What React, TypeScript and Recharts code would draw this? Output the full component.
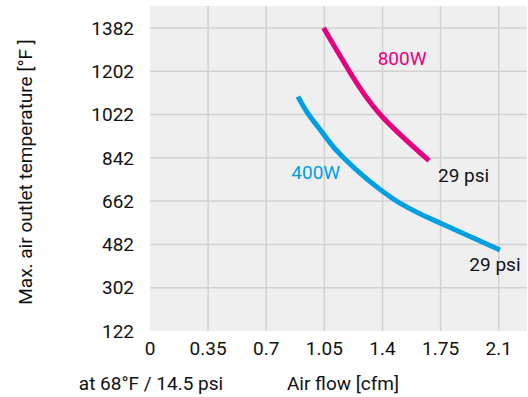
import { LineChart, Line, XAxis, YAxis, CartesianGrid, ReferenceDot, Label } from 'recharts';

// air flow [cfm] / max. outlet temperature [°F]
const flow400 = [0.891, 0.955, 1.049, 1.165, 1.456, 1.75, 2.107];
const temp400 = [1096, 1022, 937, 842, 675, 570, 459];
const flow800 = [1.045, 1.2, 1.386, 1.68];
const temp800 = [1382, 1202, 1022, 830];

const xTicks = [0, 0.35, 0.7, 1.05, 1.4, 1.75, 2.1];
const yTicks = [122, 302, 482, 662, 842, 1022, 1202, 1382];
const xDomain = [0, 2.27];
const yDomain = [122, 1473];

const notes = [
  { x: 1.518, y: 1255, text: '800W', color: '#e5007d' },
  { x: 0.998, y: 781, text: '400W', color: '#009fe3' },
  { x: 1.888, y: 770, text: '29 psi', color: '#111' },
  { x: 2.077, y: 398, text: '29 psi', color: '#111' },
];

const data400 = flow400.map((x, i) => ({ x, y: temp400[i] }));
const data800 = flow800.map((x, i) => ({ x, y: temp800[i] }));

const font = 'Roboto, "Liberation Sans", sans-serif';
const tickStyle = { fontFamily: font, fontSize: 19, fill: '#111' };

// grid lines only on inner ticks (no line on the plot edges)
const hLines = ({ offset }: any) =>
  yTicks.slice(1).map((t) => offset.top + (1 - (t - yDomain[0]) / (yDomain[1] - yDomain[0])) * offset.height);
const vLines = ({ offset }: any) =>
  xTicks.slice(1).map((t) => offset.left + ((t - xDomain[0]) / (xDomain[1] - xDomain[0])) * offset.width);

export default function App() {
  return (
    <div style={{ position: 'absolute', left: 0, top: 0, background: '#fff' }}>
      <LineChart width={528} height={397} margin={{ top: 6, right: 1, left: 0, bottom: 0 }}>
        <CartesianGrid
          fill="#efefef"
          stroke="#d2d2d2"
          strokeWidth={1.5}
          horizontalCoordinatesGenerator={hLines}
          verticalCoordinatesGenerator={vLines}
        />
        <XAxis
          type="number"
          dataKey="x"
          domain={xDomain}
          ticks={xTicks}
          axisLine={false}
          tickLine={false}
          tickSize={0}
          tickMargin={11}
          height={66}
          tick={tickStyle}
          interval={0}
        >
          <Label
            content={() => (
              <g style={{ fontFamily: font, fontSize: 19, fill: '#111' }}>
                <text x={151} y={390} textAnchor="middle">at 68°F / 14.5 psi</text>
                <text x={343} y={390} textAnchor="middle">Air flow [cfm]</text>
              </g>
            )}
          />
        </XAxis>
        <YAxis
          type="number"
          dataKey="y"
          domain={yDomain}
          ticks={yTicks}
          axisLine={false}
          tickLine={false}
          tickSize={0}
          tickMargin={16}
          width={150}
          tick={tickStyle}
          interval={0}
        >
          <Label
            content={() => (
              <text
                x={25}
                y={172}
                transform="rotate(-90 25 172)"
                textAnchor="middle"
                dominantBaseline="central"
                style={{ fontFamily: font, fontSize: 19, fill: '#111' }}
              >
                Max. air outlet temperature [°F ]
              </text>
            )}
          />
        </YAxis>
        <Line
          data={data800}
          dataKey="y"
          type="natural"
          stroke="#e5007d"
          strokeWidth={5}
          dot={false}
          activeDot={false}
          isAnimationActive={false}
        />
        <Line
          data={data400}
          dataKey="y"
          type="natural"
          stroke="#009fe3"
          strokeWidth={5}
          dot={false}
          activeDot={false}
          isAnimationActive={false}
        />
        {notes.map((n, i) => (
          <ReferenceDot
            key={i}
            x={n.x}
            y={n.y}
            r={0}
            stroke="none"
            fill="none"
            label={{
              value: n.text,
              position: 'center',
              fill: n.color,
              fontSize: 19,
              fontFamily: font,
            }}
          />
        ))}
      </LineChart>
    </div>
  );
}
